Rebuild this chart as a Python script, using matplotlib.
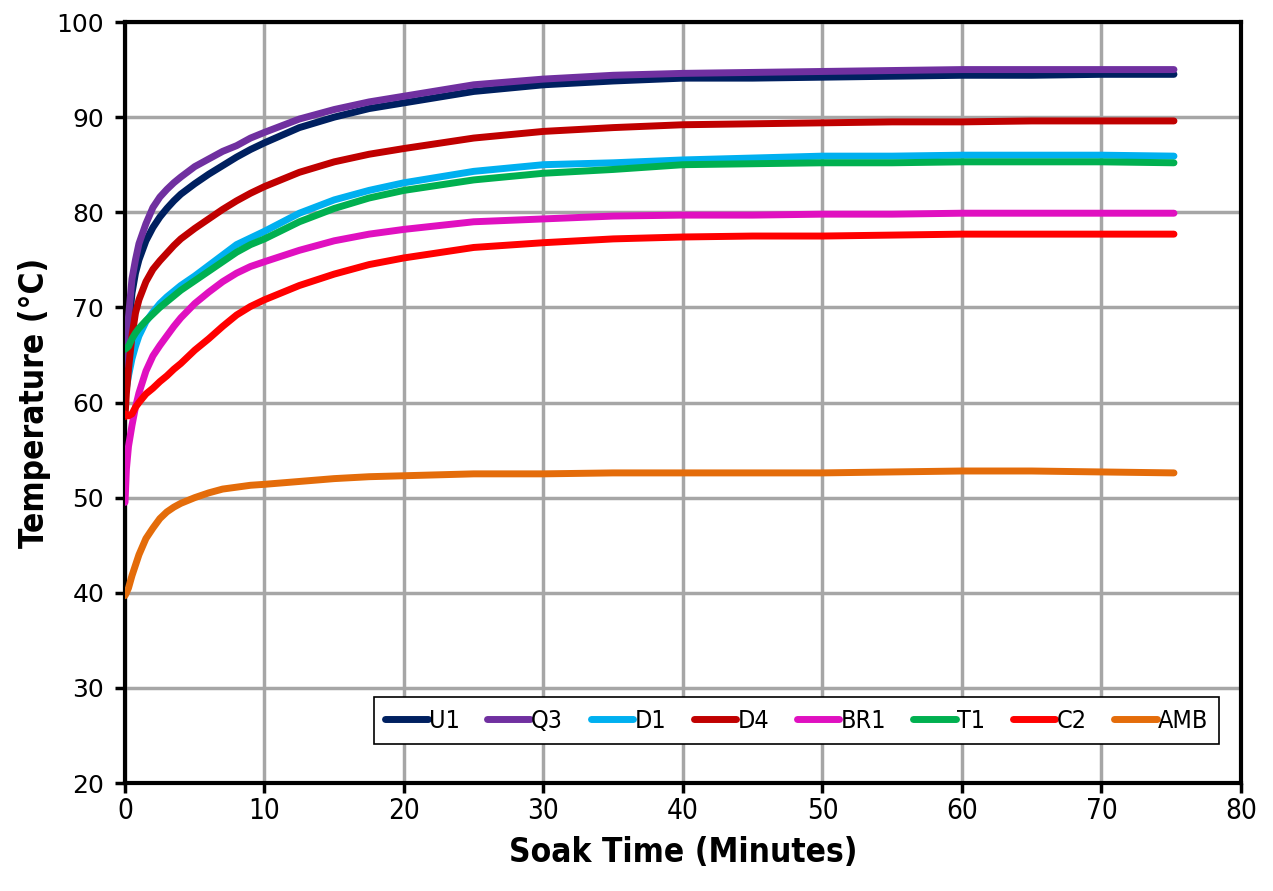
import matplotlib.pyplot as plt
import numpy as np

# soak time (minutes)
t = [0, 0.1, 0.25, 0.5, 0.75, 1, 1.5, 2, 2.5, 3, 3.5, 4, 5, 6, 7, 8, 9, 10, 12.5, 15, 17.5, 20,
     25, 30, 35, 40, 45, 50, 55, 60, 65, 70, 75.2]

u1 = [62.0, 64.5, 67.5, 71.5, 73.6, 75.0, 77.0, 78.4, 79.5, 80.4, 81.2, 81.9, 83.0, 84.0, 84.9, 85.8, 86.6, 87.3, 88.9, 90.0, 90.9, 91.5,
      92.7, 93.4, 93.8, 94.1, 94.1, 94.2, 94.3, 94.4, 94.4, 94.5, 94.5]
q3 = [64.0, 66.5, 69.0, 73.0, 75.0, 76.7, 78.8, 80.5, 81.6, 82.4, 83.1, 83.7, 84.8, 85.6, 86.4, 87.0, 87.8, 88.4, 89.8, 90.8, 91.6, 92.2,
      93.4, 94.0, 94.4, 94.6, 94.7, 94.8, 94.9, 95.0, 95.0, 95.0, 95.0]
d1 = [60.5, 61.5, 62.8, 64.6, 65.9, 67.0, 68.5, 69.5, 70.4, 71.1, 71.7, 72.3, 73.3, 74.4, 75.5, 76.6, 77.3, 78.0, 79.9, 81.3, 82.3, 83.1,
      84.3, 85.0, 85.2, 85.5, 85.7, 85.9, 85.9, 86.0, 86.0, 86.0, 85.9]
d4 = [58.5, 61.0, 63.5, 67.0, 69.4, 70.8, 72.7, 74.0, 74.9, 75.7, 76.5, 77.2, 78.3, 79.3, 80.3, 81.2, 82.0, 82.7, 84.2, 85.3, 86.1, 86.7,
      87.8, 88.5, 88.9, 89.2, 89.3, 89.4, 89.5, 89.5, 89.6, 89.6, 89.6]
br1 = [49.5, 53.0, 55.4, 57.6, 59.5, 61.0, 63.3, 64.9, 66.0, 67.0, 68.0, 68.9, 70.4, 71.6, 72.7, 73.6, 74.3, 74.8, 76.0, 77.0, 77.7, 78.2,
       79.0, 79.3, 79.6, 79.7, 79.7, 79.8, 79.8, 79.9, 79.9, 79.9, 79.9]
t1 = [65.6, 65.7, 65.9, 66.7, 67.3, 67.8, 68.6, 69.3, 70.0, 70.6, 71.2, 71.8, 72.8, 73.8, 74.8, 75.8, 76.6, 77.2, 79.0, 80.4, 81.5, 82.3,
      83.4, 84.1, 84.5, 85.0, 85.1, 85.2, 85.2, 85.3, 85.3, 85.3, 85.2]
c2 = [58.8, 58.7, 58.6, 58.8, 59.5, 60.0, 60.9, 61.5, 62.2, 62.8, 63.5, 64.1, 65.5, 66.7, 68.0, 69.2, 70.1, 70.8, 72.3, 73.5, 74.5, 75.2,
      76.3, 76.8, 77.2, 77.4, 77.5, 77.5, 77.6, 77.7, 77.7, 77.7, 77.7]
amb = [39.7, 40.0, 40.5, 41.8, 42.9, 44.0, 45.7, 46.8, 47.8, 48.5, 49.0, 49.4, 50.0, 50.5, 50.9, 51.1, 51.3, 51.4, 51.7, 52.0, 52.2, 52.3,
       52.5, 52.5, 52.6, 52.6, 52.6, 52.6, 52.7, 52.8, 52.8, 52.7, 52.6]

names = ['U1', 'Q3', 'D1', 'D4', 'BR1', 'T1', 'C2', 'AMB']
series = [u1, q3, d1, d4, br1, t1, c2, amb]
colors = ['#002060', '#7030A0', '#00B0F0', '#C00000', '#E010C0', '#00B050', '#FF0000', '#E46C0A']

fig = plt.figure(figsize=(12.73, 8.91), dpi=100)
ax = fig.add_axes([0.0982, 0.1212, 0.8766, 0.8541])

for name, y, c in zip(names, series, colors):
    ax.plot(t, y, color=c, lw=5, label=name, solid_capstyle='round',
            solid_joinstyle='round', zorder=3)

ax.set_xlim(0, 80)
ax.set_ylim(20, 100)
ax.set_xticks(np.arange(0, 81, 10))
ax.set_yticks(np.arange(20, 101, 10))
ax.grid(True, color='#A6A6A6', lw=2.5, zorder=0)
ax.set_axisbelow(True)
for s in ax.spines.values():
    s.set_linewidth(3)
    s.set_color('black')
ax.tick_params(direction='out', length=7, width=2.5)
ax.tick_params(axis='x', pad=3, labelsize=20)
ax.tick_params(axis='y', pad=8, labelsize=18)
for lab in ax.get_xticklabels():
    lab.set_fontstretch('condensed')

ax.set_xlabel('Soak Time (Minutes)', fontsize=24, fontweight='bold', fontstretch='condensed', labelpad=8)
ax.set_ylabel('Temperature (°C)', fontsize=24, fontweight='bold', fontstretch='condensed', labelpad=4)

leg = ax.legend(ncol=8, loc='lower right', bbox_to_anchor=(0.992, 0.035),
                prop={'size': 18, 'stretch': 'condensed'},
                handlelength=1.7, handletextpad=0.05, columnspacing=1.1,
                fancybox=False, edgecolor='black', framealpha=1, borderpad=0.45)
leg.get_frame().set_linewidth(1.2)
for h in leg.get_lines():
    h.set_linewidth(5)

fig.savefig('out.png', dpi=100)
